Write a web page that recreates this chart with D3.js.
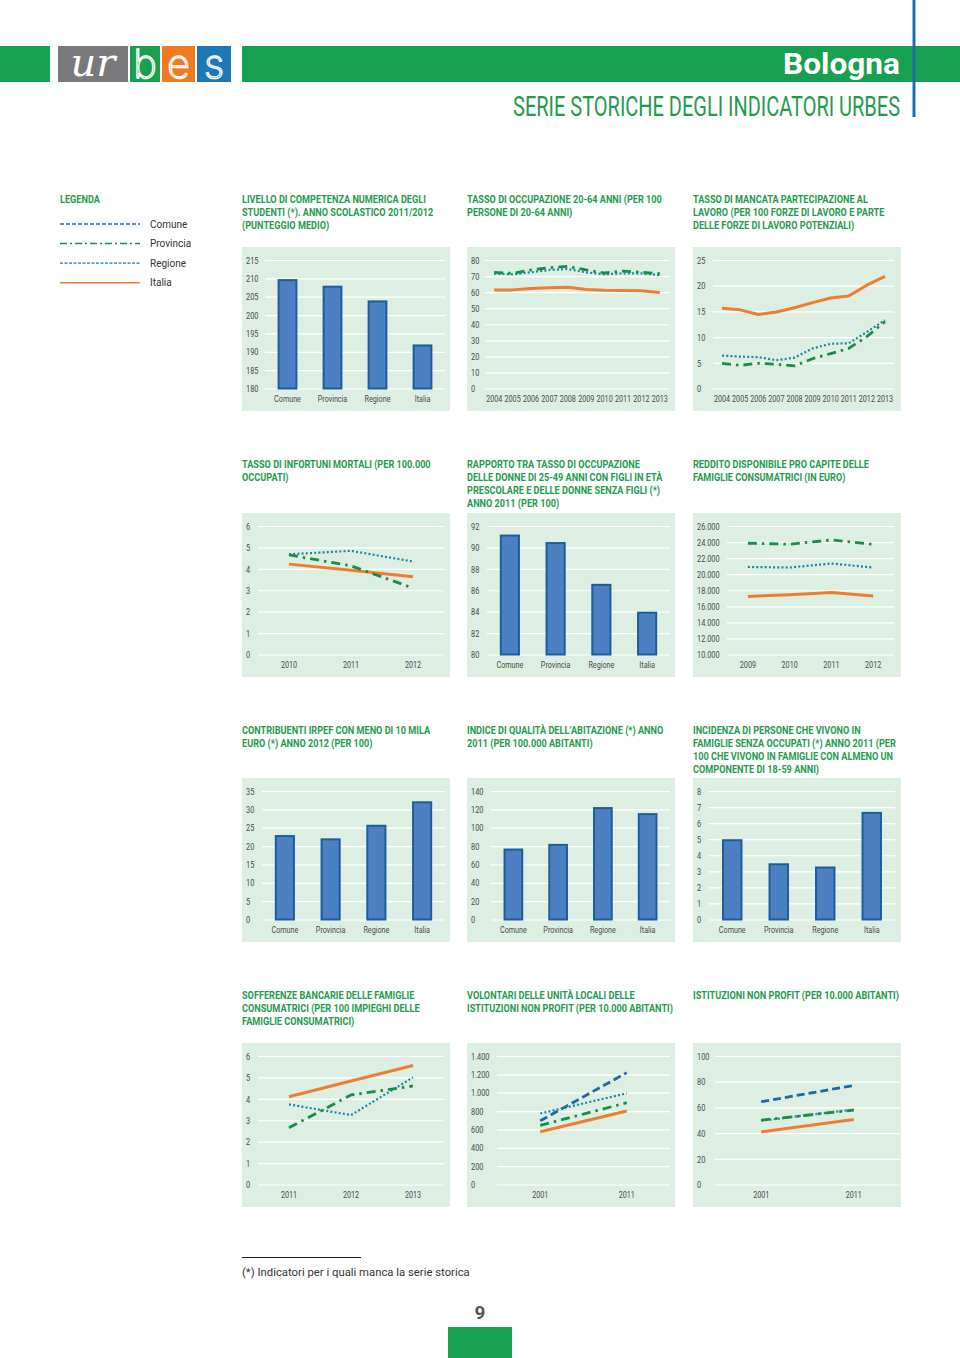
<!DOCTYPE html>
<html><head><meta charset="utf-8">
<script src="https://cdn.jsdelivr.net/npm/d3@7"></script>
<style>body{margin:0;background:#fff}svg{display:block}</style>
</head><body>
<svg id="c" width="960" height="1358"></svg>
<script>
// ---------------- DATA ----------------
const barCategories = ["Comune", "Provincia", "Regione", "Italia"];
const legendNames = ["Comune", "Provincia", "Regione", "Italia"];

const competenzaValues = [209.8, 208, 204, 192];
const competenzaTicks = [180, 185, 190, 195, 200, 205, 210, 215];

const years0413 = ["2004","2005","2006","2007","2008","2009","2010","2011","2012","2013"];
const occupazioneProvincia = [72.3, 71.7, 73.8, 75.2, 76.0, 73.8, 71.9, 73.1, 72.3, 71.5];
const occupazioneRegione   = [71.5, 71.1, 72.3, 73.8, 74.4, 72.3, 71.1, 71.7, 71.7, 70.6];
const occupazioneItalia    = [61.3, 61.4, 62.3, 62.8, 63.0, 61.7, 61.1, 61.0, 60.9, 59.8];
const occupazioneTicks = [0, 10, 20, 30, 40, 50, 60, 70, 80];

const mancataProvincia = [4.9, 4.5, 4.9, 4.7, 4.4, 5.8, 6.8, 7.8, 10.1, 13.0];
const mancataRegione   = [6.4, 6.2, 6.1, 5.5, 6.0, 7.8, 8.7, 8.8, 11.0, 13.3];
const mancataItalia    = [15.6, 15.3, 14.4, 14.9, 15.7, 16.7, 17.6, 18.0, 20.1, 21.8];
const mancataTicks = [0, 5, 10, 15, 20, 25];

const infortuniYears = ["2010", "2011", "2012"];
const infortuniProvincia = [4.65, 4.14, 3.1];
const infortuniRegione   = [4.68, 4.84, 4.34];
const infortuniItalia    = [4.22, 3.93, 3.63];
const infortuniTicks = [0, 1, 2, 3, 4, 5, 6];

const rapportoValues = [91.2, 90.5, 86.6, 84.0];
const rapportoTicks = [80, 82, 84, 86, 88, 90, 92];

const redditoYears = ["2009", "2010", "2011", "2012"];
const redditoProvincia = [23850, 23730, 24260, 23730];
const redditoRegione   = [20900, 20830, 21330, 20830];
const redditoItalia    = [17235, 17440, 17730, 17280];
const redditoTicks = [10000, 12000, 14000, 16000, 18000, 20000, 22000, 24000, 26000];

const contribuentiValues = [23.0, 22.1, 25.8, 32.2];
const contribuentiTicks = [0, 5, 10, 15, 20, 25, 30, 35];

const abitazioneValues = [77.3, 82.4, 122.5, 115.9];
const abitazioneTicks = [0, 20, 40, 60, 80, 100, 120, 140];

const incidenzaValues = [5.0, 3.5, 3.3, 6.7];
const incidenzaTicks = [0, 1, 2, 3, 4, 5, 6, 7, 8];

const sofferenzeYears = ["2011", "2012", "2013"];
const sofferenzeProvincia = [2.65, 4.18, 4.6];
const sofferenzeRegione   = [3.74, 3.24, 5.0];
const sofferenzeItalia    = [4.10, 4.83, 5.56];
const sofferenzeTicks = [0, 1, 2, 3, 4, 5, 6];

const volontariYears = ["2001", "2011"];
const volontariComune    = [694, 1218];
const volontariProvincia = [644, 891];
const volontariRegione   = [774, 993];
const volontariItalia    = [575, 800];
const volontariTicks = [0, 200, 400, 600, 800, 1000, 1200, 1400];

const istituzioniYears = ["2001", "2011"];
const istituzioniComune    = [64.4, 77.1];
const istituzioniProvincia = [50.1, 57.9];
const istituzioniRegione   = [49.6, 58.4];
const istituzioniItalia    = [41.0, 50.6];
const istituzioniTicks = [0, 20, 40, 60, 80, 100];

const titles = [
  ["LIVELLO DI COMPETENZA NUMERICA DEGLI","STUDENTI (*). ANNO SCOLASTICO 2011/2012","(PUNTEGGIO MEDIO)"],
  ["TASSO DI OCCUPAZIONE 20-64 ANNI (PER 100","PERSONE DI 20-64 ANNI)"],
  ["TASSO DI MANCATA PARTECIPAZIONE AL","LAVORO (PER 100 FORZE DI LAVORO E PARTE","DELLE FORZE DI LAVORO POTENZIALI)"],
  ["TASSO DI INFORTUNI MORTALI (PER 100.000","OCCUPATI)"],
  ["RAPPORTO TRA TASSO DI OCCUPAZIONE","DELLE DONNE DI 25-49 ANNI CON FIGLI IN ETÀ","PRESCOLARE E DELLE DONNE SENZA FIGLI (*)","ANNO 2011 (PER 100)"],
  ["REDDITO DISPONIBILE PRO CAPITE DELLE","FAMIGLIE CONSUMATRICI (IN EURO)"],
  ["CONTRIBUENTI IRPEF CON MENO DI 10 MILA","EURO (*) ANNO 2012 (PER 100)"],
  ["INDICE DI QUALITÀ DELL’ABITAZIONE (*) ANNO","2011 (PER 100.000 ABITANTI)"],
  ["INCIDENZA DI PERSONE CHE VIVONO IN","FAMIGLIE SENZA OCCUPATI (*) ANNO 2011 (PER","100 CHE VIVONO IN FAMIGLIE CON ALMENO UN","COMPONENTE DI 18-59 ANNI)"],
  ["SOFFERENZE BANCARIE DELLE FAMIGLIE","CONSUMATRICI (PER 100 IMPIEGHI DELLE","FAMIGLIE CONSUMATRICI)"],
  ["VOLONTARI DELLE UNITÀ LOCALI DELLE","ISTITUZIONI NON PROFIT (PER 10.000 ABITANTI)"],
  ["ISTITUZIONI NON PROFIT (PER 10.000 ABITANTI)"]
];

// ---------------- STYLE / LAYOUT ----------------
const FONT = "Roboto, 'DejaVu Sans', sans-serif";
const GREEN = "#17a04f", TGREEN = "#1f9b50", PANEL = "#ddefe3", AXIS = "#4a4a4a";
const BAR_FILL = "#4d80c2", BAR_STROKE = "#1e5d9b";
const styles = {
  Italia:    {color:"#ee7d31", width:3,   dash:null},
  Regione:   {color:"#1b84a8", width:2.2, dash:"2,2.2"},
  Provincia: {color:"#188d45", width:2.8, dash:"9,5,2.5,5"},
  Comune:    {color:"#1f68a4", width:2.8, dash:"8,4"}
};
const legendStyles = {
  Comune:    {color:"#2466a0", width:1.6, dash:"4,2"},
  Provincia: {color:"#1a8f4a", width:1.6, dash:"7,3,2,3"},
  Regione:   {color:"#1b7fa6", width:1.4, dash:"3,1.5"},
  Italia:    {color:"#ee7d31", width:1.6, dash:null}
};
const colX = [242, 467, 693];
const rowY = [247, 513, 778, 1043];
const titleY = [202.5, 468, 733.5, 999];
const PW = 208, PH = 164;

const svg = d3.select("#c");
const it = d3.formatLocale({decimal: ",", thousands: ".", grouping: [3], currency: ["€", ""]});
const fmtThousands = it.format(",d");

function measure(str, size, weight) {
  const t = svg.append("text").attr("font-family", FONT).attr("font-size", size)
    .attr("font-weight", weight).text(str);
  const w = t.node().getComputedTextLength(); t.remove(); return w;
}
function ctext(g, x, y, str, o) {
  return g.append("text")
    .attr("transform", `translate(${x},${y}) scale(${o.sx || 1},1)`)
    .attr("font-family", FONT).attr("font-size", o.size)
    .attr("font-weight", o.weight || "normal").attr("fill", o.fill)
    .attr("text-anchor", o.anchor || "start").text(str);
}
const TITLE_SIZE = 11;
const titleSX = 206 / measure("ISTITUZIONI NON PROFIT (PER 10.000 ABITANTI)", TITLE_SIZE, "bold");
const TICK_SIZE = 9, TICK_SX = 0.82, CAT_SX = 0.8;

// ---------------- HEADER ----------------
svg.append("rect").attr("x", 0).attr("y", 46).attr("width", 50).attr("height", 36).attr("fill", GREEN);
svg.append("rect").attr("x", 242).attr("y", 46).attr("width", 718).attr("height", 36).attr("fill", GREEN);
svg.append("rect").attr("x", 58).attr("y", 46).attr("width", 70).attr("height", 36).attr("fill", "#79797b");
svg.append("rect").attr("x", 130).attr("y", 46).attr("width", 30).attr("height", 36).attr("fill", "#1a9f4f");
svg.append("rect").attr("x", 162).attr("y", 46).attr("width", 33).attr("height", 36).attr("fill", "#f07a22");
svg.append("rect").attr("x", 197).attr("y", 46).attr("width", 34).attr("height", 36).attr("fill", "#1e78b8");
svg.append("text").attr("x", 93).attr("y", 76).attr("text-anchor", "middle")
  .attr("font-family", "'DejaVu Serif', 'Liberation Serif', serif").attr("font-style", "italic")
  .attr("font-size", 40).attr("fill", "#fff").text("ur");
[["b",145],["e",178.5],["s",214]].forEach(([l, x]) => {
  svg.append("text").attr("x", x).attr("y", 78).attr("text-anchor", "middle")
    .attr("font-family", "Inter, 'DejaVu Sans', sans-serif").attr("font-weight", 200)
    .attr("font-size", 40).attr("fill", "none").attr("stroke", "#fff").attr("stroke-width", 1.3).text(l);
});
const bolW = measure("Bologna", 29, "bold");
ctext(svg, 900, 74, "Bologna", {size: 29, weight: "bold", fill: "#fff", anchor: "end", sx: 117 / bolW});
const serW = measure("SERIE STORICHE DEGLI INDICATORI URBES", 28, "normal");
ctext(svg, 900, 116, "SERIE STORICHE DEGLI INDICATORI URBES", {size: 28, fill: TGREEN, anchor: "end", sx: 387 / serW});
svg.append("line").attr("x1", 914).attr("x2", 914).attr("y1", 0).attr("y2", 117)
  .attr("stroke", "#1e6fae").attr("stroke-width", 3);

// ---------------- LEGEND ----------------
ctext(svg, 60, 202.5, "LEGENDA", {size: TITLE_SIZE, weight: "bold", fill: TGREEN, sx: titleSX});
const legendY = d3.scalePoint().domain(legendNames).range([224, 282.7]);
legendNames.forEach(n => {
  const s = legendStyles[n];
  svg.append("line").attr("x1", 60).attr("x2", 140).attr("y1", legendY(n)).attr("y2", legendY(n))
    .attr("stroke", s.color).attr("stroke-width", s.width).attr("stroke-dasharray", s.dash);
  svg.append("text").attr("x", 150).attr("y", legendY(n) + 3.5).attr("font-family", FONT)
    .attr("font-size", 10).attr("fill", "#333").text(n);
});

// ---------------- CHARTS ----------------
const charts = [
  {type:"bar", values: competenzaValues, ticks: competenzaTicks, left: 23, right: 203},
  {type:"line", cats: years0413, series: {Italia: occupazioneItalia, Regione: occupazioneRegione, Provincia: occupazioneProvincia}, ticks: occupazioneTicks, left: 18, right: 202},
  {type:"line", cats: years0413, series: {Italia: mancataItalia, Regione: mancataRegione, Provincia: mancataProvincia}, ticks: mancataTicks, left: 20, right: 201},
  {type:"line", cats: infortuniYears, series: {Italia: infortuniItalia, Regione: infortuniRegione, Provincia: infortuniProvincia}, ticks: infortuniTicks, left: 16, right: 202},
  {type:"bar", values: rapportoValues, ticks: rapportoTicks, left: 20, right: 203},
  {type:"line", cats: redditoYears, series: {Italia: redditoItalia, Regione: redditoRegione, Provincia: redditoProvincia}, ticks: redditoTicks, left: 34, right: 201, fmt: fmtThousands},
  {type:"bar", values: contribuentiValues, ticks: contribuentiTicks, left: 20, right: 203},
  {type:"bar", values: abitazioneValues, ticks: abitazioneTicks, left: 24, right: 203},
  {type:"bar", values: incidenzaValues, ticks: incidenzaTicks, left: 16, right: 202},
  {type:"line", cats: sofferenzeYears, series: {Italia: sofferenzeItalia, Regione: sofferenzeRegione, Provincia: sofferenzeProvincia}, ticks: sofferenzeTicks, left: 16, right: 202},
  {type:"line", cats: volontariYears, series: {Italia: volontariItalia, Regione: volontariRegione, Provincia: volontariProvincia, Comune: volontariComune}, ticks: volontariTicks, left: 30, right: 203, fmt: fmtThousands},
  {type:"line", cats: istituzioniYears, series: {Italia: istituzioniItalia, Regione: istituzioniRegione, Provincia: istituzioniProvincia, Comune: istituzioniComune}, ticks: istituzioniTicks, left: 22, right: 207}
];

charts.forEach((ch, i) => {
  const r = Math.floor(i / 3), c = i % 3;
  const px = colX[c], py = rowY[r];
  const g = svg.append("g");
  titles[i].forEach((line, k) => {
    ctext(g, px, titleY[r] + k * 13, line, {size: TITLE_SIZE, weight: "bold", fill: TGREEN, sx: titleSX});
  });
  g.append("rect").attr("x", px).attr("y", py).attr("width", PW).attr("height", PH).attr("fill", PANEL);
  const top = py + 13, bottom = py + 141.5;
  const x0 = px + ch.left, x1 = px + ch.right;
  const y = d3.scaleLinear().domain([ch.ticks[0], ch.ticks[ch.ticks.length - 1]]).range([bottom, top]);
  const fmt = ch.fmt || d3.format("d");
  const ax = g.append("g").attr("transform", `translate(${x0},0)`)
    .call(d3.axisLeft(y).tickValues(ch.ticks).tickSize(-(x1 - x0)).tickFormat(fmt));
  ax.select(".domain").remove();
  ax.selectAll(".tick line").attr("stroke", "#fff").attr("stroke-width", 1.2);
  ax.selectAll(".tick text")
    .attr("x", null).attr("dy", null)
    .attr("transform", `translate(${px + 4 - x0},3.2) scale(${TICK_SX},1)`)
    .attr("text-anchor", "start").attr("font-family", FONT).attr("font-size", TICK_SIZE).attr("fill", AXIS);

  if (ch.type === "bar") {
    const x = d3.scaleBand().domain(barCategories).range([x0, x1]).paddingInner(0.56).paddingOuter(0.28);
    g.selectAll(".bar").data(ch.values).enter().append("rect")
      .attr("x", (d, k) => x(barCategories[k]) + 1)
      .attr("y", d => y(d) + 1)
      .attr("width", x.bandwidth() - 2)
      .attr("height", d => bottom - y(d) - 1)
      .attr("fill", BAR_FILL).attr("stroke", BAR_STROKE).attr("stroke-width", 2);
    barCategories.forEach(cat => {
      ctext(g, x(cat) + x.bandwidth() / 2, py + 154.5, cat, {size: TICK_SIZE, fill: AXIS, anchor: "middle", sx: CAT_SX});
    });
  } else {
    const x = d3.scalePoint().domain(ch.cats).range([x0, x1]).padding(0.5);
    ["Italia", "Regione", "Provincia", "Comune"].forEach(name => {
      const vals = ch.series[name];
      if (!vals) return;
      const s = styles[name];
      const line = d3.line().x((d, k) => x(ch.cats[k])).y(d => y(d));
      g.append("path").datum(vals).attr("d", line).attr("fill", "none")
        .attr("stroke", s.color).attr("stroke-width", s.width)
        .attr("stroke-dasharray", s.dash).attr("stroke-linejoin", "round");
    });
    ch.cats.forEach(cat => {
      ctext(g, x(cat), py + 154.5, cat, {size: TICK_SIZE, fill: AXIS, anchor: "middle", sx: CAT_SX});
    });
  }
});

// ---------------- FOOTER ----------------
svg.append("line").attr("x1", 242).attr("x2", 361).attr("y1", 1257.5).attr("y2", 1257.5)
  .attr("stroke", "#222").attr("stroke-width", 1);
const footW = measure("(*) Indicatori per i quali manca la serie storica", 11.3, "normal");
ctext(svg, 242, 1276, "(*) Indicatori per i quali manca la serie storica", {size: 11.3, fill: "#333", sx: 228 / footW});
svg.append("text").attr("x", 480).attr("y", 1319).attr("text-anchor", "middle")
  .attr("font-family", FONT).attr("font-weight", "bold").attr("font-size", 19).attr("fill", "#555").text("9");
svg.append("rect").attr("x", 448).attr("y", 1327).attr("width", 64).attr("height", 31).attr("fill", GREEN);
</script>
</body></html>
